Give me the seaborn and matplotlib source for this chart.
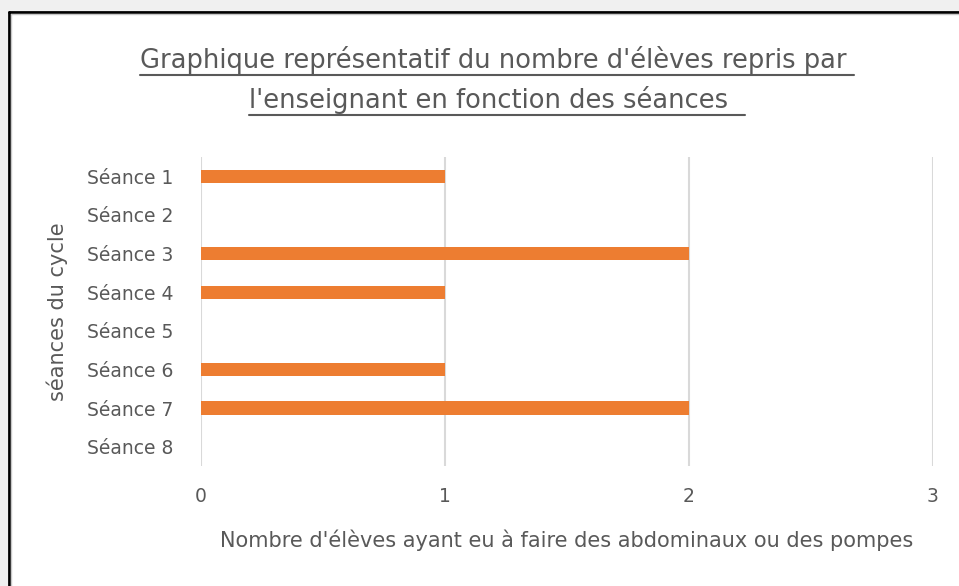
import seaborn as sns
import matplotlib.pyplot as plt
import matplotlib.patches as mpatches
import matplotlib.lines as mlines
import pandas as pd

seances = ["Séance 1", "Séance 2", "Séance 3", "Séance 4",
           "Séance 5", "Séance 6", "Séance 7", "Séance 8"]
nb_eleves = [1, 0, 2, 1, 0, 1, 2, 0]
ticks_x = [0, 1, 2, 3]

titre = ["Graphique représentatif du nombre d'élèves repris par ",
         "l'enseignant en fonction des séances  "]
label_x = "Nombre d'élèves ayant eu à faire des abdominaux ou des pompes"
label_y = "séances du cycle"

df = pd.DataFrame({"seance": seances, "nb": nb_eleves})

sns.set_theme(style="white")
plt.rcParams['font.family'] = ['Liberation Sans Narrow', 'DejaVu Sans Condensed', 'DejaVu Sans']

gris = "#595959"
orange = "#ed7d31"

fig = plt.figure(figsize=(9.59, 5.86), dpi=100)
fig.patch.set_facecolor("white")
W, H = 959, 586

# fond gris autour et cadre noir facon Excel
fig.add_artist(mpatches.Rectangle((0, 1 - 11 / H), 1, 11 / H, transform=fig.transFigure,
                                  facecolor="#f0f0f0", edgecolor="none"))
fig.add_artist(mpatches.Rectangle((0, 0), 8 / W, 1, transform=fig.transFigure,
                                  facecolor="#f0f0f0", edgecolor="none"))
fig.add_artist(mlines.Line2D([9 / W, 9 / W], [0, 1 - 12 / H], color="black", lw=2, transform=fig.transFigure))
fig.add_artist(mlines.Line2D([9 / W, 1], [1 - 12 / H, 1 - 12 / H], color="black", lw=2, transform=fig.transFigure))
fig.add_artist(mlines.Line2D([11 / W, 11 / W], [0, 1 - 14 / H], color="#c8c8c8", lw=1, transform=fig.transFigure))
fig.add_artist(mlines.Line2D([11 / W, 1], [1 - 14 / H, 1 - 14 / H], color="#c8c8c8", lw=1, transform=fig.transFigure))

ax = fig.add_axes([201 / W, 1 - 466 / H, (933 - 201) / W, (466 - 157) / H])
sns.barplot(data=df, x="nb", y="seance", color=orange, width=0.34, ax=ax,
            saturation=1, linewidth=0, edgecolor="none")

ax.set_xlim(0, 3)
ax.set_xticks(ticks_x)
ax.set_xticklabels([str(t) for t in ticks_x])
ax.xaxis.grid(True, color="#d9d9d9", lw=1.5)
ax.set_axisbelow(True)
ax.set_facecolor("none")
for s in ax.spines.values():
    s.set_visible(False)
ax.tick_params(axis="both", length=0, labelsize=13.5, colors=gris)
ax.tick_params(axis="x", pad=15)
ax.tick_params(axis="y", pad=20)
ax.set_xlabel(label_x, fontsize=15, color=gris)
ax.set_ylabel(label_y, fontsize=15, color=gris)
ax.xaxis.set_label_coords(0.5, -0.205)
ax.yaxis.set_label_coords(-0.182, 0.5)

# titre sur deux lignes, souligne
fig.canvas.draw()
renderer = fig.canvas.get_renderer()
for ligne, yc in zip(titre, [60, 100]):
    t = fig.text(497 / W, 1 - yc / H, ligne, ha="center", va="center", fontsize=18.5, color=gris)
    bb = t.get_window_extent(renderer)
    yline = (bb.y0 - 1) / H
    fig.add_artist(mlines.Line2D([bb.x0 / W, bb.x1 / W], [yline, yline], color=gris, lw=1.5,
                                 transform=fig.transFigure))

plt.savefig("out.png", dpi=100, facecolor=fig.get_facecolor())
